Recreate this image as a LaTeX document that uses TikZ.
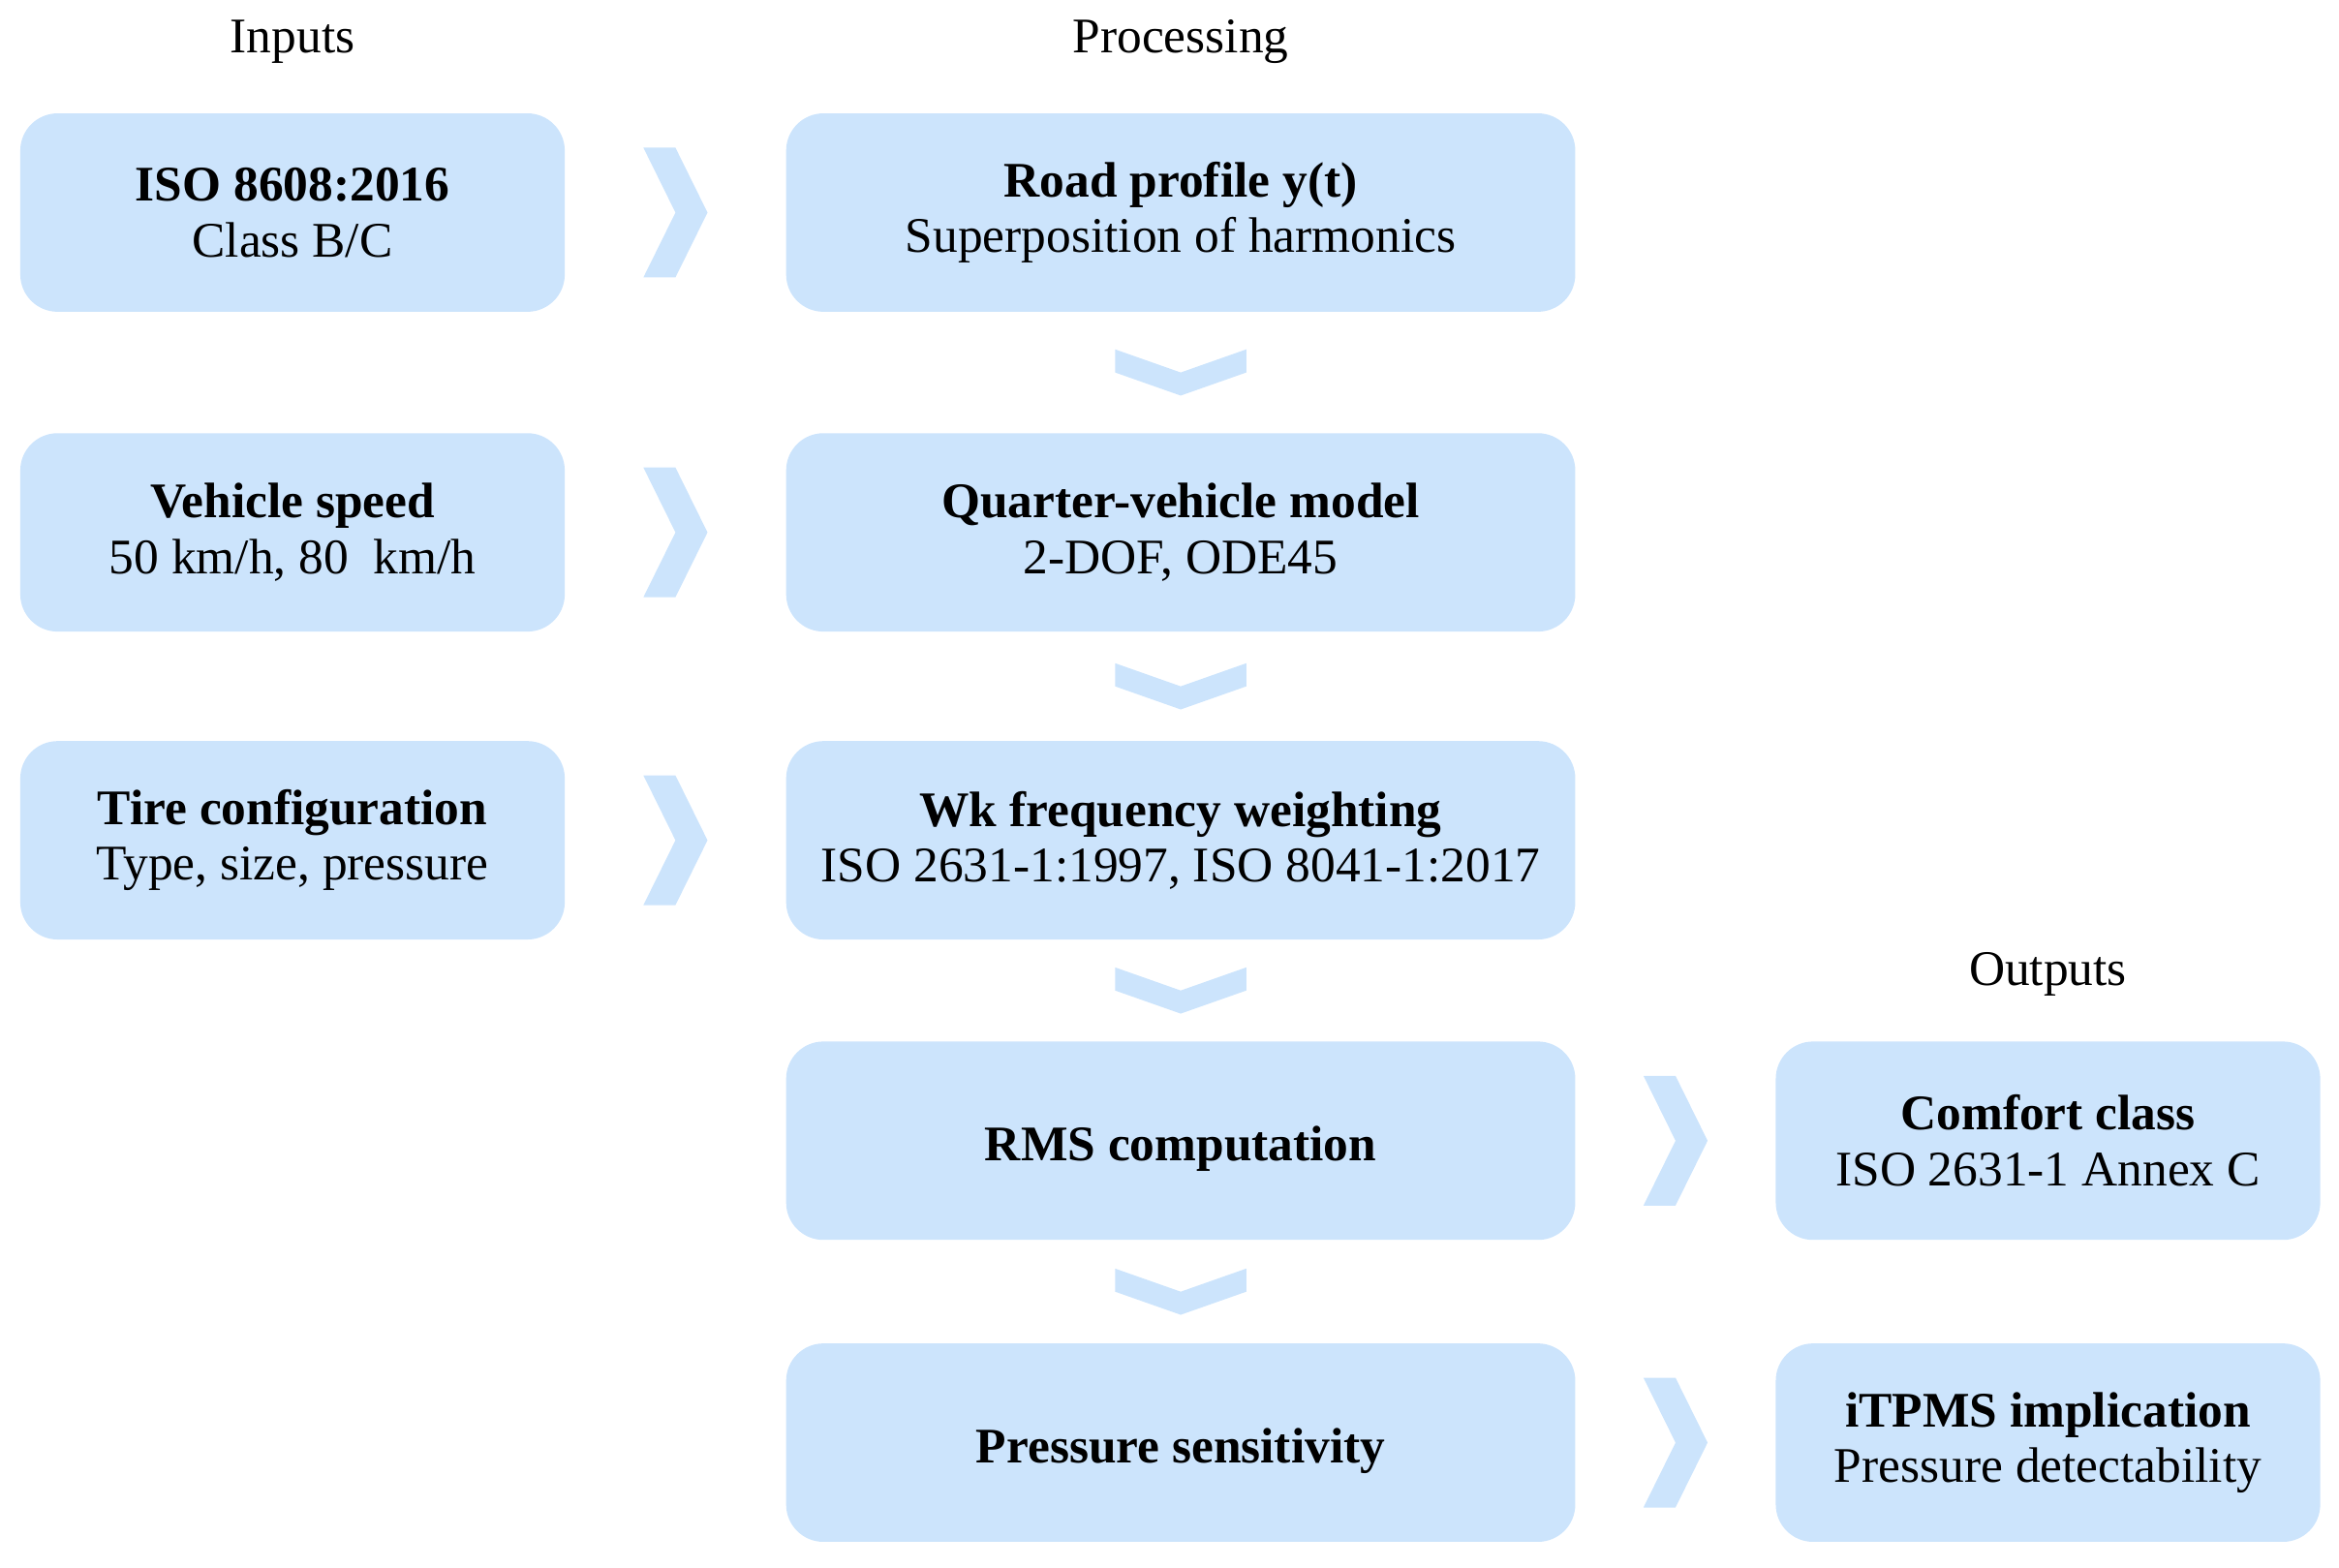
\documentclass[tikz,border=0pt]{standalone}
\usepackage{fontspec}
\setmainfont{Liberation Serif}
\usetikzlibrary{positioning,calc}
\definecolor{paleblue}{RGB}{204,228,252}

\begin{document}
\begin{tikzpicture}[
  box/.style={fill=paleblue,rounded corners=0.25cm,align=center,minimum height=1.33cm,inner sep=2pt,font=\fontsize{9.5}{10.6}\selectfont,execute at begin node={\rule{0pt}{9.6pt}}},
  inbox/.style={box,minimum width=3.65cm},
  procbox/.style={box,minimum width=5.29cm},
  head/.style={inner sep=0pt,font=\fontsize{9.5}{10.6}\selectfont},
  chevright/.pic={\fill[paleblue] (-0.215,0.435) -- (0,0.435) -- (0.215,0) -- (0,-0.435) -- (-0.215,-0.435) -- (0,0) -- cycle;},
  chevdown/.pic={\fill[paleblue] (-0.44,0.155) -- (0,0) -- (0.44,0.155) -- (0.44,0) -- (0,-0.155) -- (-0.44,0) -- cycle;}
]
\useasboundingbox (0,0) rectangle (15.68,-10.51);
% processing column
\node[procbox] (pr1) at (7.915,-1.425) {\textbf{Road profile y(t)}\\Superposition of harmonics};
\node[procbox, below=0.80cm of pr1] (pr2) {\textbf{Quarter-vehicle model}\\2-DOF, ODE45};
\node[procbox, below=0.72cm of pr2] (pr3) {\textbf{Wk frequency weighting}\\ISO 2631-1:1997, ISO 8041-1:2017};
\node[procbox, below=0.67cm of pr3] (pr4) {\textbf{RMS computation}};
\node[procbox, below=0.68cm of pr4] (pr5) {\textbf{Pressure sensitivity}};
% inputs
\node[inbox, left=1.47cm of pr1] (in1) {\textbf{ISO 8608:2016}\\Class B/C};
\node[inbox, left=1.47cm of pr2] (in2) {\textbf{Vehicle speed}\\50 km/h, 80~ km/h};
\node[inbox, left=1.47cm of pr3] (in3) {\textbf{Tire configuration}\\Type, size, pressure};
% outputs
\node[inbox, right=1.33cm of pr4] (out1) {\textbf{Comfort class}\\ISO 2631-1 Annex C};
\node[inbox, right=1.33cm of pr5] (out2) {\textbf{iTPMS implication}\\Pressure detectability};
% headers
\node[head, above=0.32cm of in1] (hin) {Inputs};
\node[head, above=0.32cm of pr1] (hpr) {Processing};
\node[head, above=0.29cm of out1] (hout) {Outputs};
% chevrons
\pic at ($(in1.east)!.5!(pr1.west)$) {chevright};
\pic at ($(in2.east)!.5!(pr2.west)$) {chevright};
\pic at ($(in3.east)!.5!(pr3.west)$) {chevright};
\pic at ($(pr4.east)!.5!(out1.west)$) {chevright};
\pic at ($(pr5.east)!.5!(out2.west)$) {chevright};
\pic at ($(pr1.south)!.5!(pr2.north)$) {chevdown};
\pic at ($(pr2.south)!.5!(pr3.north)$) {chevdown};
\pic at ($(pr3.south)!.5!(pr4.north)$) {chevdown};
\pic at ($(pr4.south)!.5!(pr5.north)$) {chevdown};
\end{tikzpicture}
\end{document}
